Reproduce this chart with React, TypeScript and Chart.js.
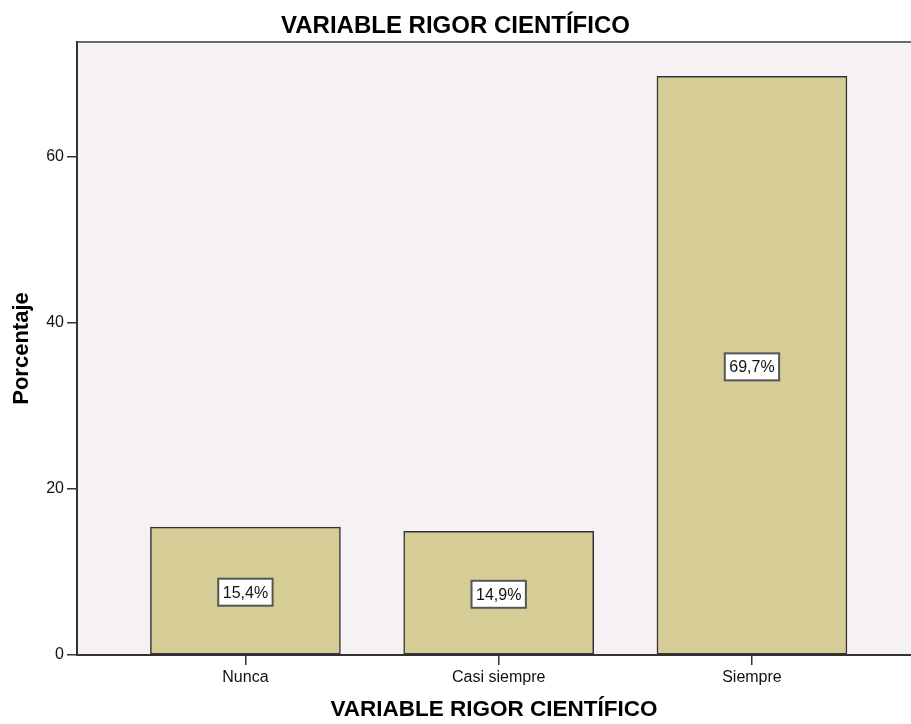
import React, { useEffect, useRef } from "react";
import { Chart, registerables } from "chart.js";

Chart.register(...registerables);

const categories: string[] = ["Nunca", "Casi siempre", "Siempre"];
const percentages: number[] = [15.4, 14.9, 69.7];
const yTickValues: number[] = [0, 20, 40, 60];

const TITLE = "VARIABLE RIGOR CIENTÍFICO";
const X_TITLE = "VARIABLE RIGOR CIENTÍFICO";
const Y_TITLE = "Porcentaje";

const FONT = "'Liberation Sans', Arial, Helvetica, sans-serif";
const AXIS_COLOR = "#333333";
const PLOT_BG = "#F5F1F5";
const BAR_FILL = "#D5CD95";

const plotPlugin = {
  id: "plotDecor",
  beforeDraw(chart: any) {
    const { ctx, chartArea } = chart;
    ctx.save();
    ctx.fillStyle = PLOT_BG;
    ctx.fillRect(chartArea.left, chartArea.top, chartArea.right - chartArea.left, chartArea.bottom - chartArea.top);
    ctx.strokeStyle = "#6a6a6a";
    ctx.lineWidth = 2;
    ctx.beginPath();
    ctx.moveTo(chartArea.left, chartArea.top);
    ctx.lineTo(chartArea.right, chartArea.top);
    ctx.stroke();
    ctx.restore();
  },
  afterDatasetsDraw(chart: any) {
    const { ctx } = chart;
    const meta = chart.getDatasetMeta(0);
    ctx.save();
    ctx.font = `16px ${FONT}`;
    ctx.textAlign = "center";
    ctx.textBaseline = "middle";
    meta.data.forEach((bar: any, i: number) => {
      const v = percentages[i];
      const label = v.toFixed(1).replace(".", ",") + "%";
      const cx = bar.x;
      const cy = (bar.y + bar.base) / 2 + 1.5;
      const w = ctx.measureText(label).width + 9;
      const h = 27;
      ctx.fillStyle = "#ffffff";
      ctx.fillRect(cx - w / 2, cy - h / 2, w, h);
      ctx.strokeStyle = "#555555";
      ctx.lineWidth = 2;
      ctx.strokeRect(cx - w / 2, cy - h / 2, w, h);
      ctx.fillStyle = "#111111";
      ctx.fillText(label, cx, cy + 1);
    });
    ctx.restore();
  },
};

export default function App() {
  const canvasRef = useRef<HTMLCanvasElement | null>(null);

  useEffect(() => {
    if (!canvasRef.current) return;
    const chart = new Chart(canvasRef.current, {
      type: "bar",
      data: {
        datasets: [
          {
            label: Y_TITLE,
            data: categories.map((_, i) => ({ x: i, y: percentages[i] })),
            backgroundColor: BAR_FILL,
            borderColor: AXIS_COLOR,
            borderWidth: 1.5,
            borderSkipped: false,
            barThickness: 190,
          },
        ],
      },
      options: {
        animation: false,
        responsive: false,
        maintainAspectRatio: false,
        layout: { padding: 0 },
        plugins: {
          legend: { display: false },
          tooltip: { enabled: false },
          title: {
            display: true,
            text: TITLE,
            color: "#000000",
            font: { family: FONT, size: 24, weight: "bold", lineHeight: 1.2 },
            padding: { top: 11.5, bottom: 1.7 },
          },
        },
        scales: {
          x: {
            type: "linear",
            offset: false,
            min: -0.665,
            max: 2.628,
            afterBuildTicks: (scale: any) => {
              scale.ticks = categories.map((_, i) => ({ value: i }));
            },
            afterFit: (scale: any) => {
              scale.height = 69;
            },
            ticks: {
              color: "#111111",
              font: { family: FONT, size: 16 },
              padding: 3,
              maxRotation: 0,
              autoSkip: false,
              callback: (v: any) => categories[Number(v)] ?? "",
            },
            grid: {
              display: true,
              offset: false,
              drawOnChartArea: false,
              drawTicks: true,
              tickLength: 10,
              color: AXIS_COLOR,
              lineWidth: 1.5,
            },
            border: { display: true, color: AXIS_COLOR, width: 2 },
            title: {
              display: true,
              text: X_TITLE,
              color: "#000000",
              font: { family: FONT, size: 22.5, weight: "bold", lineHeight: 1.2 },
              padding: { top: 0, bottom: 1 },
            },
          },
          y: {
            type: "linear",
            min: 0,
            max: 73.85,
            afterBuildTicks: (scale: any) => {
              scale.ticks = yTickValues.map((v) => ({ value: v }));
            },
            afterFit: (scale: any) => {
              scale.width = 77;
            },
            ticks: {
              color: "#111111",
              font: { family: FONT, size: 16 },
              padding: 3,
            },
            grid: {
              display: true,
              drawOnChartArea: false,
              drawTicks: true,
              tickLength: 10,
              color: AXIS_COLOR,
              lineWidth: 1.5,
            },
            border: { display: true, color: AXIS_COLOR, width: 2 },
            title: {
              display: true,
              text: Y_TITLE,
              color: "#000000",
              font: { family: FONT, size: 22, weight: "bold", lineHeight: 1.2 },
              padding: { top: 9, bottom: 0 },
            },
          },
        },
      },
      plugins: [plotPlugin],
    } as any);
    return () => chart.destroy();
  }, []);

  return (
    <div style={{ position: "absolute", left: 0, top: 0, width: 911, height: 724, background: "#ffffff" }}>
      <canvas ref={canvasRef} width={911} height={724} style={{ width: 911, height: 724, display: "block" }} />
    </div>
  );
}
